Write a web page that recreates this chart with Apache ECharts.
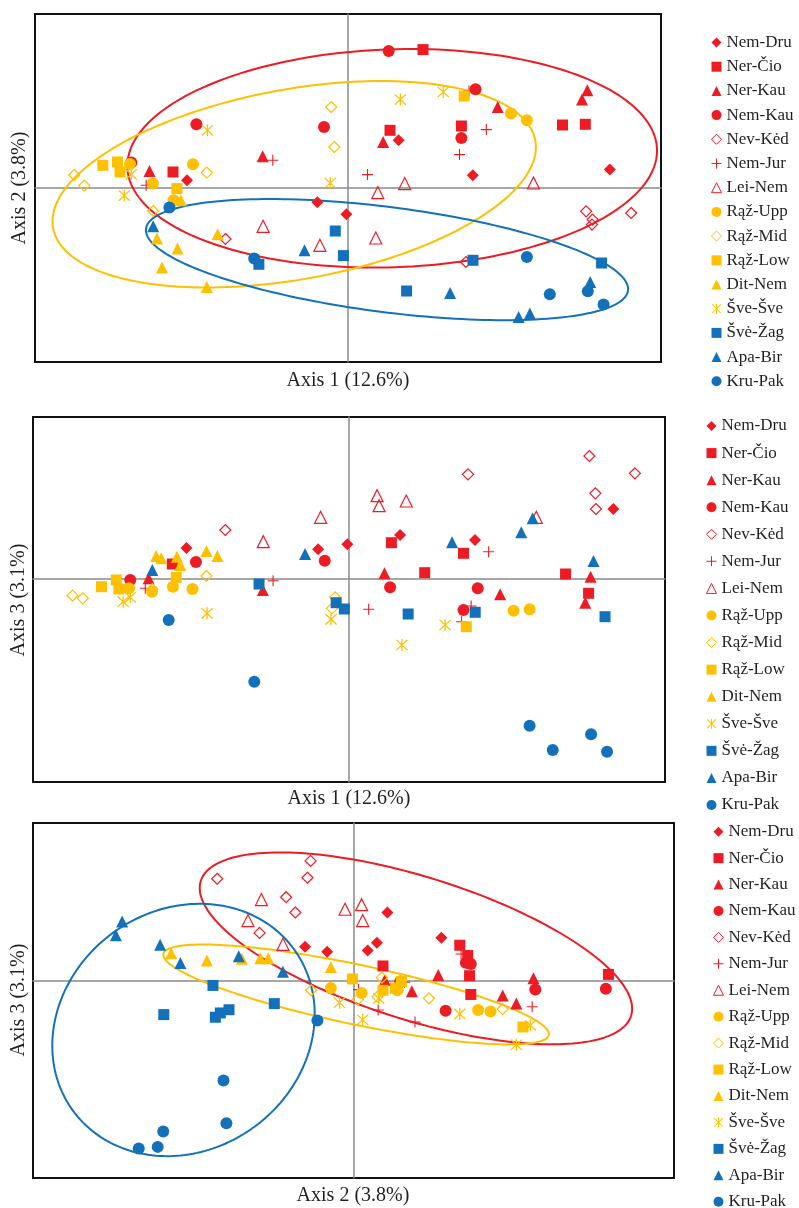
<!DOCTYPE html>
<html><head><meta charset="utf-8">
<script src="https://cdn.jsdelivr.net/npm/echarts@6/dist/echarts.min.js"></script>
<style>html,body{margin:0;padding:0;background:#fff}#c{width:799px;height:1208px}</style>
</head><body><div id="c"></div>
<script>
// Sample scores: [Axis 1, Axis 2, Axis 3] (chart units)
const NEM_DRU = [[-161,7.7,31],[-30.6,-14.3,29.7],[-1.6,-26.3,34.7],[50.6,47.7,44],[124.8,12.7,39],[261.8,18.4,70]];
const NER_CIO = [[-175,16,15],[75,138.4,6.3],[42,57.7,36.3],[113.4,62,25.7],[214.5,63,5],[237.3,63.7,-14.3]];
const NER_KAU = [[-198.5,17,0.7],[-85.3,31.7,-11],[35.1,46,5.7],[149.7,81,-15.3],[239.3,97.7,2.3],[234,88.4,-23.7]];
const NEM_KAU = [[-151.6,63.7,17],[-216.7,25.4,-1],[-24,61,18.3],[40.7,137,-8.3],[127.5,98.7,-9.3],[113.4,50,-31]];
const NEV_KED = [[-122.5,-51,49],[117.9,-74,104.7],[238.1,-23.3,123],[244.6,-31.6,70],[244,-36.6,85.7],[283.2,-25,105.7]];
const NEM_JUR = [[-201.8,2.7,-9.3],[-75.2,27.7,-1.7],[19.5,13.4,-30.3],[138.3,58.4,27.3],[111.5,33.4,-42.7],[121,97,-27]];
const LEI_NEM = [[-84.9,-38.3,37.3],[-28.1,-57.3,61.7],[56.7,4.4,78],[29.8,-4.6,73.3],[185.5,5,61.7],[27.8,-50,83.3]];
const RAZ_UPP = [[-155,23.7,-10],[-195.1,4.4,-12.7],[-174.4,-12.3,-7.7],[163,74.4,-31.7],[178.9,67.7,-30.3],[-218,24,-9.3]];
const RAZ_MID = [[-16.8,81,-29.3],[-13.7,41,-18.3],[-273.8,13,-16.7],[-263.7,2.4,-19.3],[-194.8,-23,-10],[-141.2,15.4,3]];
const RAZ_LOW = [[-245.2,22.7,-7.7],[-230.5,26,-1],[-228,16,-10],[-171.1,-0.6,1.7],[116.2,92,-47.7]];
const DIT_NEM = [[-167.1,-12.3,14],[-191,-50.6,23],[-170.5,-60.6,22.3],[-186,-79.6,20.7],[-141.2,-99,28],[-130.4,-46.3,23]];
const SVE_SVE = [[-140.6,57.7,-34.3],[-216.7,13.7,-18.3],[-223.7,-7.6,-22.7],[-17.8,5,-40.3],[52.4,88.4,-66],[95.2,96,-46]];
const SVE_ZAG = [[-89.1,-76.3,-5],[-12.7,-43,-23.7],[-4.6,-67.6,-30],[125,-72.3,-33.3],[253.6,-75,-37.7],[58.6,-103,-35]];
const APA_BIR = [[-194.8,-38.3,9],[-43.5,-62.3,25],[102.1,-105,36.7],[242.2,-94,18],[170.6,-129,46.7],[181.9,-125.6,60.7]];
const KRU_PAK = [[-178.6,-19.6,-41],[-93.8,-70.6,-102.7],[178.9,-69,-146.7],[201.8,-106.3,-171],[239.8,-103.3,-155.3],[255.6,-116.6,-172.7]];

const GROUP_NAMES = ['Nem-Dru','Ner-Čio','Ner-Kau','Nem-Kau','Nev-Kėd','Nem-Jur','Lei-Nem','Rąž-Upp','Rąž-Mid','Rąž-Low','Dit-Nem','Šve-Šve','Švė-Žag','Apa-Bir','Kru-Pak'];
const GROUP_DATA = [NEM_DRU,NER_CIO,NER_KAU,NEM_KAU,NEV_KED,NEM_JUR,LEI_NEM,RAZ_UPP,RAZ_MID,RAZ_LOW,DIT_NEM,SVE_SVE,SVE_ZAG,APA_BIR,KRU_PAK];

// Axis ranges (same units as the scores)
const AXIS1_RANGE = [-313, 313];
const AXIS2_RANGE = [-174, 174];
const AXIS3_RANGE = [-203, 162];
const AXIS_TITLES = ['Axis 1 (12.6%)', 'Axis 2 (3.8%)', 'Axis 3 (3.1%)'];

// 95% ellipses: [centre x, centre y, major vector x, y, minor vector x, y]
const ELL12_RED = [44.2, 29.7, 264.8, 9.2, -3.8, 108.9];
const ELL12_YEL = [-53.8, 3.7, 241.1, 43.8, -17.0, 93.5];
const ELL12_BLU = [39, -71.6, 241, -30.9, 6.7, 52.1];
const ELL23_RED = [33.9, 33.1, 116.8, -69.3, 11.6, 70.2];
const ELL23_YEL = [1.4, -14.3, 104.6, -41.7, 3.3, 30.0];
const ELL23_BLU = [-92.3, -50.8, 59.8, 83.5, -38.7, 99.3];

// ---------- styling ----------
const RED = '#ED1C24', YEL = '#FFC000', BLU = '#1271BA';
const FONT = '"Liberation Serif", "DejaVu Serif", serif';
const PLUS = 'path://M4.5,0L5.5,0L5.5,10L4.5,10Z M0,4.5L10,4.5L10,5.5L0,5.5Z';
const STAR = 'path://M4.5,0L5.5,0L5.5,10L4.5,10Z M1.05,0.35L9.65,8.95L8.95,9.65L0.35,1.05Z M8.95,0.35L9.65,1.05L1.05,9.65L0.35,8.95Z';
const HOLLOW = 'rgba(255,255,255,0)';
const STYLES = [
  {symbol:'diamond', size:12, color:RED},
  {symbol:'rect', size:11, color:RED},
  {symbol:'triangle', size:12, color:RED},
  {symbol:'circle', size:12, color:RED},
  {symbol:'diamond', size:11, color:RED, hollow:true},
  {symbol:PLUS, size:11, color:RED},
  {symbol:'triangle', size:12, color:RED, hollow:true},
  {symbol:'circle', size:12, color:YEL},
  {symbol:'diamond', size:11, color:YEL, hollow:true},
  {symbol:'rect', size:11, color:YEL},
  {symbol:'triangle', size:12, color:YEL},
  {symbol:STAR, size:12, color:YEL},
  {symbol:'rect', size:11, color:BLU},
  {symbol:'triangle', size:12, color:BLU},
  {symbol:'circle', size:12, color:BLU}
];

const PANELS = [
  {grid:{left:35, top:14, width:626, height:348}, dims:[0,1], xr:AXIS1_RANGE, yr:AXIS2_RANGE,
   xt:{x:348, y:381}, yt:{x:20, y:188}, ell:[[ELL12_RED,RED],[ELL12_YEL,YEL],[ELL12_BLU,BLU]],
   legend:{left:711, top:34, gap:7.2}},
  {grid:{left:33, top:417, width:632, height:365}, dims:[0,2], xr:AXIS1_RANGE, yr:AXIS3_RANGE,
   xt:{x:349, y:799}, yt:{x:19, y:600}, ell:[],
   legend:{left:706, top:417.5, gap:10.07}},
  {grid:{left:33, top:823, width:641, height:355}, dims:[1,2], xr:AXIS2_RANGE, yr:AXIS3_RANGE,
   xt:{x:353, y:1196}, yt:{x:19, y:1000}, ell:[[ELL23_RED,RED],[ELL23_YEL,YEL],[ELL23_BLU,BLU]],
   legend:{left:713, top:823.2, gap:9.43}}
];

const grids = [], xAxes = [], yAxes = [], series = [], graphics = [], legends = [];
const axisLine = {onZero:true, lineStyle:{color:'#8a8a8a', width:1.5}};
PANELS.forEach((P, p) => {
  grids.push(Object.assign({show:true, borderColor:'#111', borderWidth:2, backgroundColor:'rgba(0,0,0,0)', containLabel:false}, P.grid));
  xAxes.push({gridIndex:p, type:'value', min:P.xr[0], max:P.xr[1], axisLine:axisLine, axisTick:{show:false}, axisLabel:{show:false}, splitLine:{show:false}});
  yAxes.push({gridIndex:p, type:'value', min:P.yr[0], max:P.yr[1], axisLine:axisLine, axisTick:{show:false}, axisLabel:{show:false}, splitLine:{show:false}});
  P.ell.forEach(([e, col]) => {
    series.push({type:'custom', xAxisIndex:p, yAxisIndex:p, silent:true, z:1, clip:false,
      data:[e], encode:{x:0, y:1},
      renderItem: function(params, api) {
        const cx = api.value(0), cy = api.value(1), ux = api.value(2), uy = api.value(3), vx = api.value(4), vy = api.value(5);
        const pts = [];
        for (let i = 0; i <= 200; i++) {
          const t = i / 200 * 2 * Math.PI, c = Math.cos(t), s = Math.sin(t);
          pts.push(api.coord([cx + ux * c + vx * s, cy + uy * c + vy * s]));
        }
        return {type:'polyline', shape:{points:pts}, style:{fill:null, stroke:col, lineWidth:2}};
      }});
  });
  GROUP_NAMES.forEach((name, g) => {
    const st = STYLES[g];
    series.push({type:'scatter', name:name, xAxisIndex:p, yAxisIndex:p, z:3,
      symbol:st.symbol, symbolSize:st.size,
      itemStyle: st.hollow ? {color:HOLLOW, borderColor:st.color, borderWidth:1.2, opacity:1} : {color:st.color, opacity:1},
      emphasis:{disabled:true},
      data: GROUP_DATA[g].map(s => [s[P.dims[0]], s[P.dims[1]]])});
  });
  graphics.push({type:'text', x:P.xt.x, y:P.xt.y, style:{text:AXIS_TITLES[P.dims[0]], font:'20px ' + FONT, fill:'#231f20', align:'center', verticalAlign:'middle'}});
  graphics.push({type:'text', x:P.yt.x, y:P.yt.y, rotation:Math.PI/2, style:{text:AXIS_TITLES[P.dims[1]], font:'20px ' + FONT, fill:'#231f20', align:'center', verticalAlign:'middle'}});
  legends.push({orient:'vertical', left:P.legend.left, top:P.legend.top, width:90, height:420, padding:0, itemGap:P.legend.gap,
    itemWidth:10, itemHeight:10, itemTextGap:5, selectedMode:false,
    textStyle:{fontFamily:FONT, fontSize:17, color:'#231f20'},
    data: GROUP_NAMES.map((n, g) => STYLES[g].hollow ? {name:n, itemStyle:{color:'#fff', borderColor:STYLES[g].color, borderWidth:1}} : {name:n})});
});

const chart = echarts.init(document.getElementById('c'), null, {renderer:'canvas'});
chart.setOption({
  animation:false, backgroundColor:'#fff',
  grid:grids, xAxis:xAxes, yAxis:yAxes, legend:legends, graphic:graphics, series:series
});
</script></body></html>
